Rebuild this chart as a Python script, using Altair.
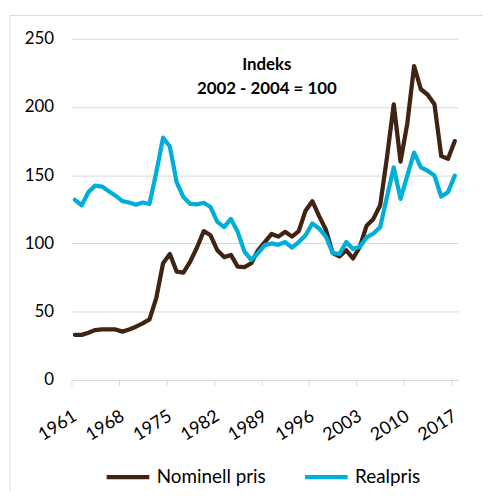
import altair as alt
import pandas as pd

years = list(range(1961, 2018))
nominell = [33, 33, 34.6, 36.5, 37, 37, 37, 35.4, 37, 39,
            41.4, 44.3, 60, 85.5, 92.3, 79.4, 78.7, 86.7, 97, 109,
            106, 95, 90, 91.6, 83, 82.6, 85.5, 95, 101, 107,
            105, 108.5, 105, 109, 124, 131, 120, 110, 93, 90.5,
            95, 89, 97.5, 113, 118, 128, 163, 202, 160, 188,
            230, 213, 209, 202, 164, 162, 175]
realpris = [132, 128, 137.6, 142.4, 141.7, 138.3, 135, 131, 130, 128.4,
            130, 128.9, 152, 177.5, 171, 145, 134, 129, 128.6, 129.8,
            126.7, 115.8, 112, 118, 108.5, 94, 88, 93, 98.8, 100,
            99, 101, 97, 101, 106, 114.6, 111, 105, 93, 92.3,
            101, 96, 97.6, 104.4, 107.3, 112, 134, 155.7, 132.7, 149.7,
            166.6, 155.7, 153.3, 149.7, 134.4, 137.6, 149.7]
series_names = ["Nominell pris", "Realpris"]
series_colors = ["#3F2414", "#00AEDA"]
tick_years = [1961, 1968, 1975, 1982, 1989, 1996, 2003, 2010, 2017]
y_ticks = [0, 50, 100, 150, 200, 250]
note_lines = ["Indeks", "2002 - 2004 = 100"]

rows = []
for name, vals in zip(series_names, [nominell, realpris]):
    for yr, v in zip(years, vals):
        rows.append({"year": yr, "value": v, "serie": name})
df = pd.DataFrame(rows)

FONT = "Lato"
half = 390 / 57 / 2

lines = alt.Chart(df).mark_line(strokeWidth=4.3, strokeJoin="round", strokeCap="round").encode(
    x=alt.X("year:Q", scale=alt.Scale(domain=[1960.5, 2017.5], nice=False, zero=False),
            axis=alt.Axis(values=tick_years, format="d", title=None, grid=False,
                          labelAngle=-32, labelAlign="right", labelBaseline="middle",
                          labelPadding=29, tickOffset=-half, labelOffset=half,
                          tickSize=6, tickColor="#D9D9D9", domainColor="#D9D9D9",
                          labelFont=FONT, labelFontSize=18, labelColor="#000000")),
    y=alt.Y("value:Q", scale=alt.Scale(domain=[0, 250], nice=False),
            axis=alt.Axis(values=y_ticks, title=None, domain=False, ticks=False,
                          gridColor="#D9D9D9", gridWidth=1, labelPadding=18,
                          labelFont=FONT, labelFontSize=17, labelColor="#000000")),
    color=alt.Color("serie:N", scale=alt.Scale(domain=series_names, range=series_colors),
                    legend=alt.Legend(title=None, orient="none", direction="horizontal",
                                      legendX=33, legendY=418, symbolType="stroke",
                                      symbolSize=1849, symbolStrokeWidth=4.3,
                                      labelFont=FONT, labelFontSize=19, labelColor="#000000",
                                      labelOffset=5, columnPadding=30)),
)

note_df = pd.DataFrame({"t": note_lines, "i": [0, 1]})
note1 = alt.Chart(note_df[note_df.i == 0]).mark_text(font=FONT, fontSize=17, fontWeight="bold",
                                    color="#000000", align="center", baseline="middle").encode(
    text="t:N", x=alt.value(197), y=alt.value(26))
note2 = alt.Chart(note_df[note_df.i == 1]).mark_text(font=FONT, fontSize=17, fontWeight="bold",
                                    color="#000000", align="center", baseline="middle").encode(
    text="t:N", x=alt.value(197), y=alt.value(51))

frame = alt.Chart(pd.DataFrame({"k": [0]})).mark_rect(fillOpacity=0, stroke="#D9D9D9", strokeWidth=1).encode(
    x=alt.value(-62), x2=alt.value(700), y=alt.value(-23.5), y2=alt.value(700))

chart = alt.layer(frame, lines, note1, note2).properties(
    width=390, height=344,
    autosize=alt.AutoSizeParams(type="none"),
    padding={"left": 64, "top": 29, "right": 25, "bottom": 110},
).configure_view(stroke=None)

chart.save("out.html", embed_options={"renderer": "svg", "actions": False})
